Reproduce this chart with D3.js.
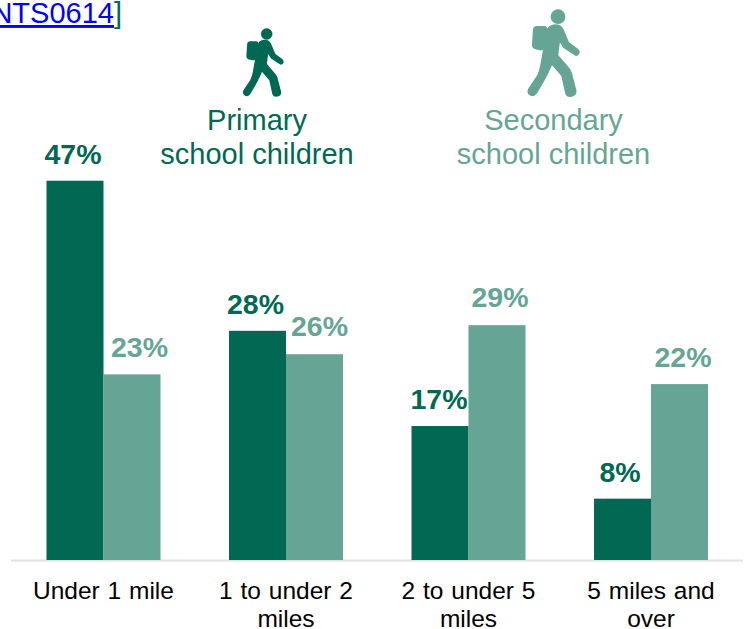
<!DOCTYPE html>
<html><head><meta charset="utf-8">
<script src="https://cdnjs.cloudflare.com/ajax/libs/d3/7.8.5/d3.min.js"></script>
<style>html,body{margin:0;padding:0;background:#fff}svg{display:block}text{font-family:"Liberation Sans",Arial,sans-serif}</style>
</head><body><svg id="c" width="747" height="629"></svg>
<script>
const categories = [["Under 1 mile"],["1 to under 2","miles"],["2 to under 5","miles"],["5 miles and","over"]];
const primary = [47,28.4,16.6,7.6];
const secondary = [23,25.5,29.1,21.8];
const seriesNames = [["Primary","school children"],["Secondary","school children"]];
const colors = ["#006853","#66A595"];

const svg = d3.select("#c");
const baseY = 560, unit = 8.07;
const y = d3.scaleLinear().domain([0,47]).range([baseY, baseY-47*unit]);
const x = d3.scaleBand().domain(d3.range(4)).range([12.25,742.25]);
const barW = 57;
const cx = i => x(i)+x.bandwidth()/2;
const labelDx = [[-30.5,-30.5,-29.5,-31],[36,33.5,31.5,32]];
const labelDy = [[-17,-17,-17,-17],[-17,-18,-18,-17]];

const src = svg.append("text").attr("x",122).attr("y",23).attr("text-anchor","end").attr("font-size",29);
src.append("tspan").attr("fill","#0000FF").attr("text-decoration","underline").text("NTS0614");
src.append("tspan").attr("fill",colors[0]).text("]");

svg.append("line").attr("x1",11).attr("x2",743).attr("y1",baseY+.5).attr("y2",baseY+.5).attr("stroke","#E2E2E2").attr("stroke-width",2);

[primary,secondary].forEach((vals,s)=>{
  svg.append("g").selectAll("rect").data(vals).join("rect")
    .attr("x",(d,i)=>cx(i)+(s?0:-barW)).attr("width",barW)
    .attr("y",d=>y(d)).attr("height",d=>baseY-y(d)).attr("fill",colors[s]);
  svg.append("g").selectAll("text").data(vals).join("text")
    .attr("x",(d,i)=>cx(i)+labelDx[s][i])
    .attr("y",(d,i)=>y(d)+labelDy[s][i])
    .attr("text-anchor","middle").attr("font-size",28.5).attr("font-weight","bold")
    .attr("fill",colors[s]).text(d=>Math.round(d)+"%");
});

categories.forEach((lines,i)=>{
  lines.forEach((t,k)=>{
    svg.append("text").attr("x",cx(i)).attr("y",599+k*28).attr("text-anchor","middle")
      .attr("font-size",24.5).attr("word-spacing",1).attr("fill","#000").text(t);
  });
});

const headerX=[257,553.5];
seriesNames.forEach((lines,s)=>{
  lines.forEach((t,k)=>{
    svg.append("text").attr("x",headerX[s]).attr("y",130+k*33.5).attr("text-anchor","middle")
      .attr("font-size",29).attr("fill",colors[s]).text(t);
  });
});

const bodyPath="M345 75 C358 74 366 82 370 92 L385 128 L412 148 C420 154 417 166 407 165 L372 142 L358 120 L352 166 L388 208 C393 215 395 222 396 230 L407 272 C409 290 383 293 378 280 L366 226 L335 190 C330 205 318 228 306 250 L288 280 C278 293 258 282 268 265 L293 228 C300 215 303 200 306 180 L322 92 C324 82 333 76 345 75Z";
const packPath="M290 78 L313 78 C320 78 323 83 322 90 L312 143 C311 150 306 152 300 151 L286 148 C279 146 275 140 276 133 L279 88 C280 82 284 78 290 78Z";
const icons=[{dx:266.7,dy:34,k:0.2605},{dx:558,dy:16.7,k:1/3}];
icons.forEach((ic,s)=>{
  const g=svg.append("g").attr("fill",colors[s])
    .attr("transform",`translate(${ic.dx},${ic.dy}) scale(${ic.k}) translate(-354,-50)`);
  g.append("circle").attr("cx",354).attr("cy",50).attr("r",22);
  g.append("path").attr("d",bodyPath).attr("stroke",colors[s]).attr("stroke-width",5).attr("stroke-linejoin","round");
  g.append("path").attr("d",packPath);
});
</script></body></html>
